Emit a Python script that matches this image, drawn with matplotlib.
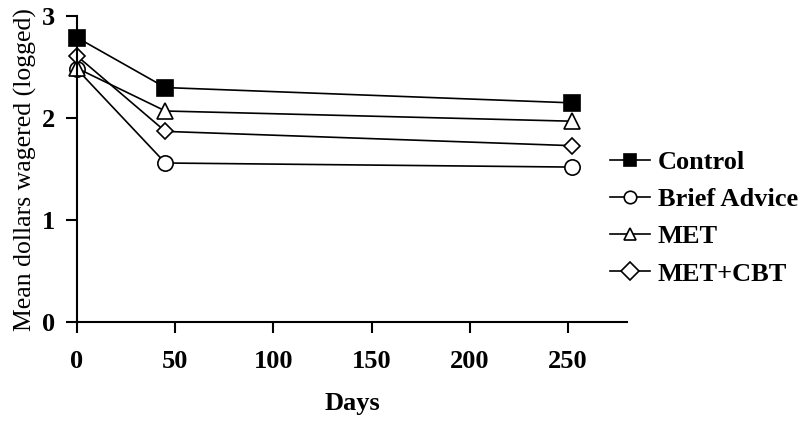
import matplotlib
matplotlib.use("Agg")
import matplotlib.pyplot as plt

# Values
days = [0, 45, 252]
control = [2.79, 2.30, 2.15]
brief_advice = [2.48, 1.56, 1.52]
met = [2.49, 2.07, 1.97]
met_cbt = [2.61, 1.87, 1.73]

x_ticks = [0, 50, 100, 150, 200, 250]
y_ticks = [0, 1, 2, 3]

plt.rcParams["font.family"] = ["Liberation Serif", "DejaVu Serif"]

fig = plt.figure(figsize=(8, 4.26), dpi=100)
ax = fig.add_axes([0.09625, 0.244, 0.6875, 0.718])

style = dict(color="black", lw=1.2, markersize=11, markeredgewidth=1.2)
ax.plot(days, control, marker="s", markerfacecolor="black", label="Control", **style)
ax.plot(days, brief_advice, marker="o", markerfacecolor="white", label="Brief Advice", **style)
ax.plot(days, met, marker="^", markerfacecolor="white", label="MET", **style)
ax.plot(days, met_cbt, marker="D", markerfacecolor="white", label="MET+CBT",
        color="black", lw=1.2, markersize=8, markeredgewidth=1.2)

ax.set_xlim(0, 280)
ax.set_ylim(0, 3)
ax.set_xticks(x_ticks)
ax.set_yticks(y_ticks)
for s in ["top", "right"]:
    ax.spines[s].set_visible(False)
for s in ["left", "bottom"]:
    ax.spines[s].set_linewidth(1.5)
ax.tick_params(direction="out", length=8, width=1.5, labelsize=19)
ax.tick_params(axis="x", pad=12)
ax.tick_params(axis="y", pad=8)
for lbl in ax.get_xticklabels() + ax.get_yticklabels():
    lbl.set_fontweight("bold")
for ln in ax.lines:
    ln.set_clip_on(False)

ax.set_xlabel("Days", fontsize=19, fontweight="bold", labelpad=14)
ax.set_ylabel("Mean dollars wagered (logged)", fontsize=18.5, labelpad=3)

leg = ax.legend(loc="center left", bbox_to_anchor=(0.95, 0.34), frameon=False,
                prop={"size": 19, "weight": "bold"}, handlelength=1.5,
                handletextpad=0.3, labelspacing=0.52, borderaxespad=0)
for h in leg.legend_handles:
    h.set_markersize(9)

fig.savefig("out.png", dpi=100)
